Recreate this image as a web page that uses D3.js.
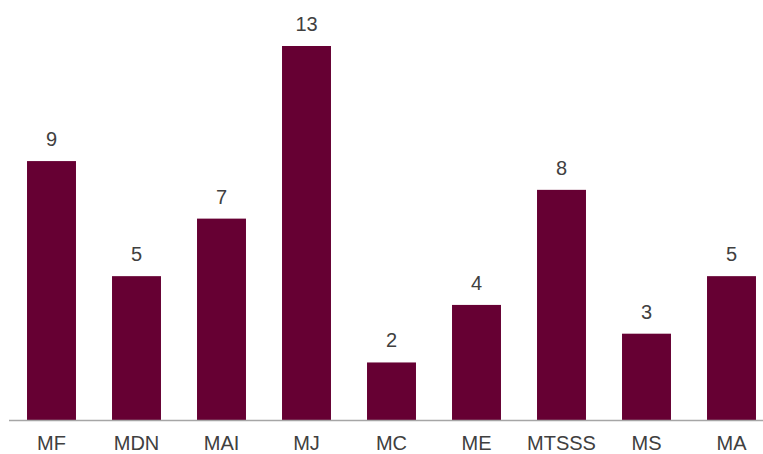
<!DOCTYPE html>
<html><head><meta charset="utf-8">
<script src="https://cdn.jsdelivr.net/npm/d3@7"></script>
<style>body{margin:0;background:#fff}</style>
</head><body>
<svg id="c" width="763" height="454"></svg>
<script>
const categories = ["MF","MDN","MAI","MJ","MC","ME","MTSSS","MS","MA"];
const values = [9,5,7,13,2,4,8,3,5];

const svg = d3.select("#c");
const baseY = 420;
const x = d3.scaleBand().domain(categories).range([9, 774]).paddingInner(0.424).paddingOuter(0.212);
const y = d3.scaleLinear().domain([0, 13]).range([baseY, 46]);

svg.selectAll("rect.bar").data(categories).join("rect")
  .attr("class","bar")
  .attr("x", d => x(d))
  .attr("width", x.bandwidth())
  .attr("y", (d,i) => y(values[i]))
  .attr("height", (d,i) => baseY - y(values[i]))
  .attr("fill", "#660033");

svg.append("line").attr("x1", 9).attr("x2", 763).attr("y1", baseY+0.5).attr("y2", baseY+0.5)
  .attr("stroke", "#a6a6a6").attr("stroke-width", 1.3);

svg.selectAll("text.val").data(categories).join("text")
  .attr("class","val")
  .attr("x", d => x(d) + x.bandwidth()/2)
  .attr("y", (d,i) => y(values[i]) - 15)
  .attr("text-anchor","middle")
  .attr("font-family","Liberation Sans, Arial, sans-serif")
  .attr("font-size", 20)
  .attr("fill","#404040")
  .text((d,i) => values[i]);

svg.selectAll("text.cat").data(categories).join("text")
  .attr("class","cat")
  .attr("x", d => x(d) + x.bandwidth()/2)
  .attr("y", 449.5)
  .attr("text-anchor","middle")
  .attr("font-family","Liberation Sans, Arial, sans-serif")
  .attr("font-size", 20)
  .attr("fill","#404040")
  .text(d => d);
</script>
</body></html>
